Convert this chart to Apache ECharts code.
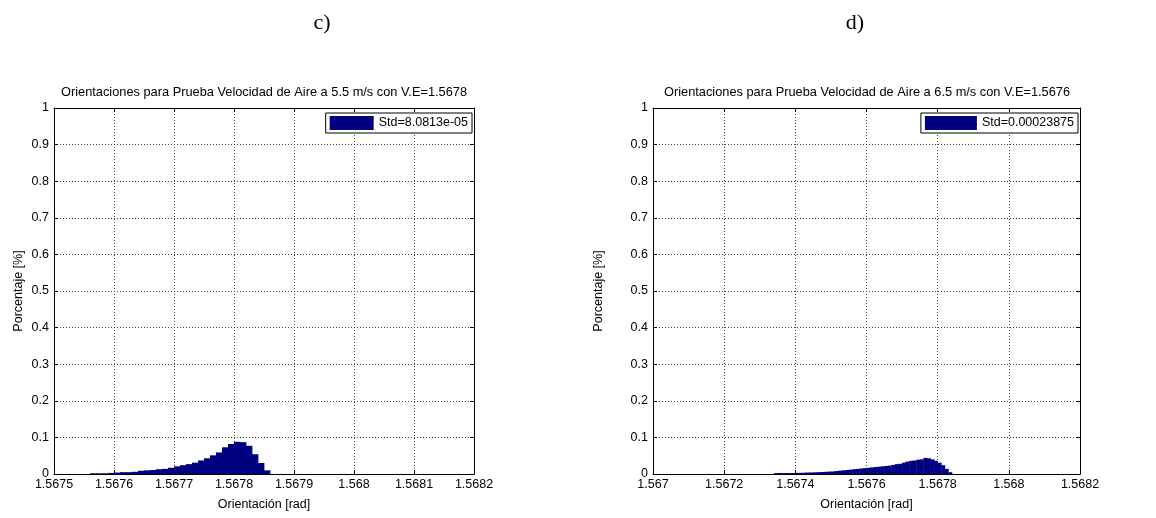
<!DOCTYPE html>
<html>
<head>
<meta charset="utf-8">
<script src="https://cdn.jsdelivr.net/npm/echarts@6/dist/echarts.min.js"></script>
<style>
  html, body { margin: 0; padding: 0; background: #fff; }
  #chart { width: 1156px; height: 518px; }
</style>
</head>
<body>
<div id="chart"></div>
<script>
// Panel c): orientation histogram at 5.5 m/s
const titleC = 'Orientaciones para Prueba Velocidad de Aire a 5.5 m/s con V.E=1.5678';
const legendC = 'Std=8.0813e-05';
const binStartC = 1.56756;
const binWidthC = 0.00001;
const countsC = [
  0.002, 0.002, 0.002, 0.003, 0.004, 0.005, 0.005, 0.006, 0.009, 0.010,
  0.011, 0.013, 0.014, 0.017, 0.021, 0.024, 0.027, 0.031, 0.037, 0.043,
  0.051, 0.059, 0.073, 0.082, 0.088, 0.087, 0.077, 0.054, 0.030, 0.010
];
const xTicksC = { min: 1.5675, max: 1.5682, interval: 0.0001 };

// Panel d): orientation histogram at 6.5 m/s
const titleD = 'Orientaciones para Prueba Velocidad de Aire a 6.5 m/s con V.E=1.5676';
const legendD = 'Std=0.00023875';
const binStartD = 1.56734;
const binWidthD = 0.00001;
const countsD = [
  0.0025, 0.0025, 0.0025, 0.0026, 0.0027, 0.0028, 0.0030, 0.0032, 0.0035, 0.0040,
  0.0042, 0.0045, 0.0050, 0.0055, 0.0060, 0.0065, 0.0070, 0.0080, 0.0090, 0.0100,
  0.0110, 0.0120, 0.0130, 0.0140, 0.0150, 0.0160, 0.0170, 0.0180, 0.0190, 0.0200,
  0.0210, 0.0220, 0.0230, 0.0250, 0.0270, 0.0280, 0.0310, 0.0340, 0.0360, 0.0370,
  0.0390, 0.0400, 0.0440, 0.0430, 0.0400, 0.0360, 0.0310, 0.0240, 0.0140, 0.0050
];
const xTicksD = { min: 1.567, max: 1.5682, interval: 0.0002 };

const yTicks = { min: 0, max: 1, interval: 0.1 };
const xName = 'Orientación [rad]';
const yName = 'Porcentaje [%]';

const FONT = 'Liberation Sans';
const FS = 12.5;
const BAR_COLOR = '#000080';

function toBins(start, width, counts) {
  return counts.map((c, i) => [start + i * width, start + (i + 1) * width, c]);
}

function fmt(v) {
  return String(parseFloat(v.toFixed(6)));
}

const gridLine = { show: true, lineStyle: { color: '#444', width: 1, type: [1, 2] } };
const labelStyle = { color: '#000', fontFamily: FONT, fontSize: FS };
const boxLine = { show: true, onZero: false, lineStyle: { color: '#000', width: 1 } };
const inTick = { show: true, inside: true, length: 4, lineStyle: { color: '#000' } };

function xAxesFor(gi, t) {
  return [
    {
      type: 'value', gridIndex: gi, position: 'bottom',
      min: t.min, max: t.max, interval: t.interval,
      name: xName, nameLocation: 'middle', nameGap: 24,
      nameTextStyle: { color: '#000', fontFamily: FONT, fontSize: FS },
      axisLine: boxLine, axisTick: inTick,
      axisLabel: Object.assign({ margin: 4, formatter: fmt }, labelStyle),
      splitLine: gridLine
    },
    {
      type: 'value', gridIndex: gi, position: 'top',
      min: t.min, max: t.max, interval: t.interval,
      axisLine: boxLine, axisTick: inTick,
      axisLabel: { show: false },
      splitLine: { show: false }
    }
  ];
}

function yAxesFor(gi, nameGap) {
  return [
    {
      type: 'value', gridIndex: gi, position: 'left',
      min: yTicks.min, max: yTicks.max, interval: yTicks.interval,
      name: yName, nameLocation: 'middle', nameGap: nameGap,
      nameTextStyle: { color: '#000', fontFamily: FONT, fontSize: FS },
      axisLine: boxLine, axisTick: inTick,
      axisLabel: Object.assign({ margin: 5, formatter: fmt }, labelStyle),
      splitLine: gridLine
    },
    {
      type: 'value', gridIndex: gi, position: 'right',
      min: yTicks.min, max: yTicks.max, interval: yTicks.interval,
      axisLine: boxLine, axisTick: inTick,
      axisLabel: { show: false },
      splitLine: { show: false }
    }
  ];
}

function renderBin(params, api) {
  const p0 = api.coord([api.value(0), api.value(2)]);
  const p1 = api.coord([api.value(1), 0]);
  return {
    type: 'rect',
    shape: { x: p0[0], y: p0[1], width: p1[0] - p0[0] + 0.4, height: p1[1] - p0[1] },
    style: { fill: BAR_COLOR }
  };
}

function histSeries(name, xi, yi, data) {
  return {
    type: 'custom', name: name,
    xAxisIndex: xi, yAxisIndex: yi,
    renderItem: renderBin,
    itemStyle: { color: BAR_COLOR },
    encode: { x: [0, 1], y: 2 },
    data: data,
    silent: true
  };
}

function legendFor(name, right, patchWidth) {
  return {
    data: [{ name: name, icon: 'rect' }],
    right: right, top: 113,
    orient: 'vertical',
    itemWidth: patchWidth, itemHeight: 14, itemGap: 2,
    padding: [3, 4, 3, 4],
    backgroundColor: '#fff',
    borderColor: '#000', borderWidth: 1, borderRadius: 0,
    textStyle: { color: '#000', fontFamily: FONT, fontSize: FS },
    selectedMode: false
  };
}

const chart = echarts.init(document.getElementById('chart'), null, { renderer: 'canvas' });

const option = {
  backgroundColor: '#fff',
  animation: false,
  grid: [
    { left: 54, top: 108, width: 420, height: 366 },
    { left: 653, top: 108, width: 427, height: 366 }
  ],
  xAxis: [...xAxesFor(0, xTicksC), ...xAxesFor(1, xTicksD)],
  yAxis: [...yAxesFor(0, 29), ...yAxesFor(1, 48)],
  legend: [legendFor(legendC, 1156 - 472, 44), legendFor(legendD, 1156 - 1078, 52)],
  series: [
    histSeries(legendC, 0, 0, toBins(binStartC, binWidthC, countsC)),
    histSeries(legendD, 2, 2, toBins(binStartD, binWidthD, countsD))
  ],
  graphic: [
    { type: 'text', x: 322, y: 23, style: { text: 'c)', font: '22px "Liberation Serif"', fill: '#000', textAlign: 'center', textVerticalAlign: 'middle' } },
    { type: 'text', x: 855, y: 23, style: { text: 'd)', font: '22px "Liberation Serif"', fill: '#000', textAlign: 'center', textVerticalAlign: 'middle' } },
    { type: 'text', x: 264, y: 92, style: { text: titleC, font: '12.8px "Liberation Sans"', fill: '#000', textAlign: 'center', textVerticalAlign: 'middle' } },
    { type: 'text', x: 867, y: 92, style: { text: titleD, font: '12.8px "Liberation Sans"', fill: '#000', textAlign: 'center', textVerticalAlign: 'middle' } }
  ]
};

chart.setOption(option);
</script>
</body>
</html>
